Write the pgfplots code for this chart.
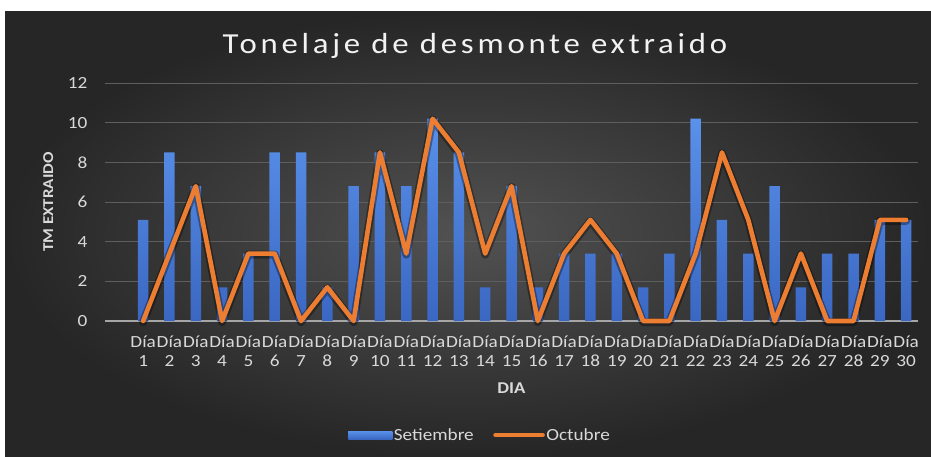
\documentclass[border=0pt]{standalone}
\usepackage{fontspec}
\setmainfont{Carlito}[FakeStretch=1.13]
\newfontfamily\titlefont{Carlito}[FakeStretch=1.13, LetterSpace=13]
\usepackage{pgfplots}
\pgfplotsset{compat=1.18}
\usetikzlibrary{shadings}

\definecolor{bginner}{HTML}{525252}
\definecolor{bgouter}{HTML}{262626}
\definecolor{gridc}{HTML}{5E5E5E}
\definecolor{zeroc}{HTML}{A6A6A6}
\definecolor{txt}{HTML}{D9D9D9}
\definecolor{barTop}{HTML}{5A91EA}
\definecolor{barBot}{HTML}{3A67C2}
\definecolor{barLeg}{HTML}{4A7BD6}
\definecolor{lineOr}{HTML}{ED7D31}

\pgfplotstableread{
dia set oct
1  5.1  0
2  8.5  3.4
3  6.8  6.8
4  1.7  0
5  3.4  3.4
6  8.5  3.4
7  8.5  0
8  1.7  1.7
9  6.8  0
10 8.5  8.5
11 6.8  3.4
12 10.2 10.2
13 8.5  8.5
14 1.7  3.4
15 6.8  6.8
16 1.7  0
17 3.4  3.4
18 3.4  5.1
19 3.4  3.4
20 1.7  0
21 3.4  0
22 10.2 3.4
23 5.1  8.5
24 3.4  5.1
25 6.8  0
26 1.7  3.4
27 3.4  0
28 3.4  0
29 5.1  5.1
30 5.1  5.1
}\datos

\begin{document}
\begin{tikzpicture}
% page and chart background
\fill[white] (0pt,0pt) rectangle (931pt,456pt);
\shade[inner color=bginner, outer color=bgouter] (5pt,0pt) rectangle (931pt,444pt);

\begin{axis}[
  at={(105pt,135pt)}, anchor=south west,
  scale only axis, width=813pt, height=238pt,
  xmin=-0.45, xmax=30.45, ymin=0, ymax=12,
  axis line style={draw=none},
  major tick length=0pt,
  ytick={0,2,...,12},
  ymajorgrids, grid style={gridc, line width=1pt},
  xtick={1,...,30},
  xticklabels={{Día\\1},{Día\\2},{Día\\3},{Día\\4},{Día\\5},{Día\\6},{Día\\7},{Día\\8},{Día\\9},{Día\\10},
               {Día\\11},{Día\\12},{Día\\13},{Día\\14},{Día\\15},{Día\\16},{Día\\17},{Día\\18},{Día\\19},{Día\\20},
               {Día\\21},{Día\\22},{Día\\23},{Día\\24},{Día\\25},{Día\\26},{Día\\27},{Día\\28},{Día\\29},{Día\\30}},
  xticklabel style={align=center, font=\fontsize{17}{19}\selectfont, text=txt, yshift=-11pt},
  yticklabel style={font=\fontsize{17}{19}\selectfont, text=txt, xshift=-14pt},
  /pgf/number format/assume math mode=true,
  title={\titlefont Tonelaje de desmonte extraido},
  title style={at={(axis description cs:0.455,1.097)}, anchor=base, font=\fontsize{29}{32}\selectfont, text=white!95!black},
  xlabel={DIA},
  xlabel style={at={(axis description cs:0.5,-0.2815)}, anchor=center, font=\fontsize{16.5}{19}\selectfont\bfseries, text=txt},
  ylabel={TM EXTRAIDO},
  ylabel style={at={(axis description cs:-0.0697,0.5)}, anchor=center, rotate=0, font=\fontsize{15}{18}\selectfont\bfseries, text=txt},
  legend style={at={(axis description cs:0.461,-0.479)}, anchor=center, draw=none, fill=none,
    legend columns=2, font=\fontsize{17}{19}\selectfont, text=txt,
    /tikz/every even column/.append style={column sep=18pt},
    nodes={inner sep=1.5pt}},
  legend cell align=left,
  clip=false,
]
% zero baseline
\addplot[zeroc, line width=1.4pt, forget plot] coordinates {(-0.45,0) (30.45,0)};

% Setiembre bars
\addplot[ybar, bar width=10.5pt, draw=none, top color=barTop, bottom color=barBot,
  legend image code/.code={\fill[barLeg] (0pt,-4pt) rectangle (44pt,4pt);}]
  table[x=dia, y=set] {\datos};
\addlegendentry{Setiembre}

% Octubre line: soft dark halo, then the line itself
\addplot[black, opacity=0.35, line width=8pt, line join=round, line cap=round, yshift=-1pt, forget plot]
  table[x=dia, y=oct] {\datos};
\addplot[lineOr, line width=4.6pt, line join=round, line cap=round,
  legend image code/.code={\draw[lineOr, line width=4.6pt, line cap=round] (0pt,0pt) -- (47pt,0pt);}]
  table[x=dia, y=oct] {\datos};
\addlegendentry{Octubre}
\end{axis}
\pgfresetboundingbox
\useasboundingbox (0pt,0pt) rectangle (931pt,456pt);
\end{tikzpicture}
\end{document}
